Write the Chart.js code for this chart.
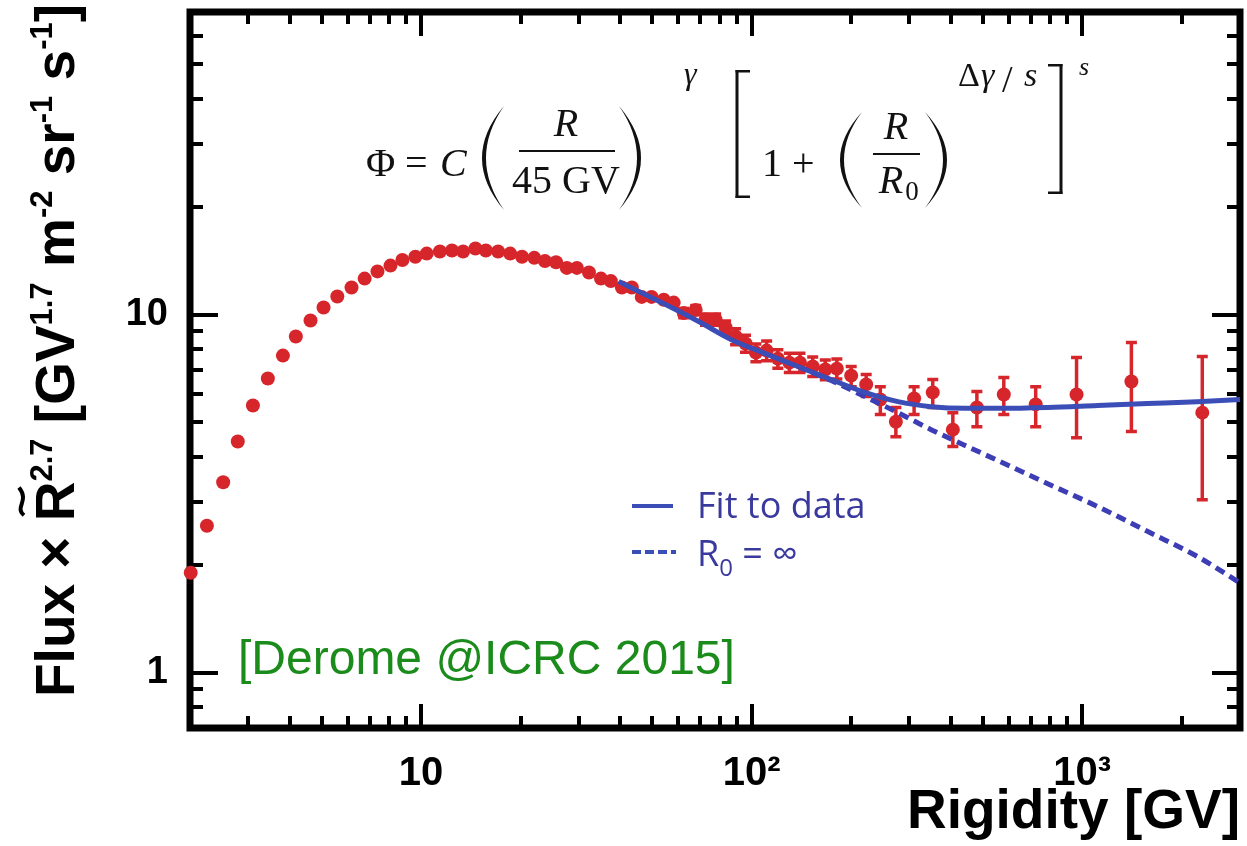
<!DOCTYPE html>
<html>
<head>
<meta charset="utf-8">
<title>Flux x R^2.7 vs rigidity</title>
<script src="https://cdn.jsdelivr.net/npm/chart.js@4.4.1/dist/chart.umd.min.js"></script>
<style>
  html, body { margin: 0; padding: 0; background: #fff; }
  #chart { display: block; }
</style>
</head>
<body>
<canvas id="chart" width="1247" height="846"></canvas>
<script>
// measured points (rigidity in GV, flux x R^2.7)
const rigidity = [
  2.01, 2.25, 2.52, 2.79, 3.10, 3.44, 3.82, 4.18, 4.63, 5.07,
  5.58, 6.16, 6.75, 7.38, 8.08, 8.78, 9.61, 10.4, 11.4, 12.4,
  13.4, 14.6, 15.7, 17.1, 18.6, 20.2, 22.0, 23.7, 25.6, 27.6,
  29.6, 32.2, 35.0, 37.5, 40.5, 43.4, 46.5, 49.8, 54.2, 58.1,
  62.3, 67.7, 72.5, 77.8, 83.4, 89.4, 95.8, 103, 111, 120,
  130, 140, 153, 167, 181, 200, 222, 245, 273, 310,
  353, 406, 480, 579, 723, 961, 1408, 2307
];
const flux = [
  1.90, 2.57, 3.40, 4.42, 5.57, 6.63, 7.68, 8.68, 9.62, 10.46,
  11.23, 11.9, 12.6, 13.2, 13.7, 14.2, 14.5, 14.8, 15.0, 15.1,
  15.0, 15.3, 15.1, 15.0, 14.8, 14.5, 14.4, 14.1, 14.0, 13.5,
  13.5, 13.1, 12.6, 12.4, 11.9, 11.9, 11.2, 11.2, 11.0, 10.8,
  10.1, 10.3, 9.68, 9.68, 9.20, 8.68, 8.30, 7.83, 7.93, 7.53,
  7.34, 7.34, 7.16, 7.02, 7.06, 6.75, 6.38, 5.79, 5.02, 5.83,
  6.06, 4.77, 5.50, 5.98, 5.61, 5.98, 6.50, 5.32
];
const errUp = [
  0, 0, 0, 0, 0, 0, 0, 0, 0, 0,
  0, 0, 0, 0, 0, 0, 0, 0, 0, 0,
  0, 0, 0, 0, 0, 0, 0, 0, 0, 0,
  0, 0, 0, 0, 0, 0, 0, 0, 0, 0,
  0.3, 0.3, 0.35, 0.35, 0.4, 0.45, 0.45, 0.45, 0.5, 0.45,
  0.45, 0.45, 0.45, 0.45, 0.45, 0.41, 0.42, 0.50, 0.48, 0.46,
  0.52, 0.55, 0.60, 0.69, 0.68, 1.61, 1.85, 2.31
];
const errDown = [
  0, 0, 0, 0, 0, 0, 0, 0, 0, 0,
  0, 0, 0, 0, 0, 0, 0, 0, 0, 0,
  0, 0, 0, 0, 0, 0, 0, 0, 0, 0,
  0, 0, 0, 0, 0, 0, 0, 0, 0, 0,
  0.3, 0.3, 0.35, 0.35, 0.4, 0.45, 0.45, 0.45, 0.5, 0.45,
  0.45, 0.45, 0.45, 0.45, 0.45, 0.46, 0.48, 0.53, 0.46, 0.57,
  0.56, 0.49, 0.64, 0.72, 0.75, 1.45, 1.79, 2.28
];

// fit curve and the R0 = infinity curve
const fitRigidity = [39.6, 54.9, 69.1, 86.9, 110, 138, 174, 220, 277, 349, 442, 555, 786, 1112, 1574, 2228, 3000];
const fitFlux = [12.37, 10.66, 9.56, 8.51, 7.78, 7.16, 6.58, 6.06, 5.71, 5.53, 5.47, 5.47, 5.50, 5.57, 5.64, 5.71, 5.79];
const noBreakRigidity = [138, 174, 220, 277, 349, 442, 555, 786, 1112, 1574, 2228, 3000];
const noBreakFlux = [7.16, 6.54, 5.90, 5.32, 4.77, 4.31, 3.91, 3.37, 2.91, 2.48, 2.11, 1.78];

// axes
const xTickValues = [10, 100, 1000];
const xTickLabels = ['10', '10²', '10³'];
const xMinorTicks = [3, 4, 5, 6, 7, 8, 9, 20, 30, 40, 50, 60, 70, 80, 90, 200, 300, 400, 500, 600, 700, 800, 900, 2000];
const yTickValues = [1, 10];
const yTickLabels = ['1', '10'];
const yMinorTicks = [0.8, 0.9, 2, 3, 4, 5, 6, 7, 8, 9, 20, 30, 40, 50, 60];

const SANS = '"Liberation Sans", Arial, Helvetica, sans-serif';
const SERIF = '"Liberation Serif", "DejaVu Serif", serif';
const RED = '#d7262b';
const BLUE = '#3b4db6';

const toPoints = (xs, ys) => xs.map((x, i) => ({ x: x, y: ys[i] }));

// frame, inward ticks and error bars, drawn under the markers
const frameAndBars = {
  id: 'frameAndBars',
  beforeDatasetsDraw(chart) {
    const { ctx, chartArea: a, scales: { x, y } } = chart;
    ctx.save();
    ctx.strokeStyle = '#000';
    ctx.lineWidth = 4;
    ctx.beginPath();
    for (const v of xTickValues.concat(xMinorTicks)) {
      const px = Math.round(x.getPixelForValue(v));
      const len = xTickValues.includes(v) ? 24 : 12;
      ctx.moveTo(px, a.bottom); ctx.lineTo(px, a.bottom - len);
      ctx.moveTo(px, a.top); ctx.lineTo(px, a.top + len);
    }
    for (const v of yTickValues.concat(yMinorTicks)) {
      const py = Math.round(y.getPixelForValue(v));
      const len = yTickValues.includes(v) ? 28 : 13;
      ctx.moveTo(a.left, py); ctx.lineTo(a.left + len, py);
      ctx.moveTo(a.right, py); ctx.lineTo(a.right - len, py);
    }
    ctx.stroke();
    ctx.lineWidth = 7;
    ctx.strokeRect(a.left, a.top, a.right - a.left, a.bottom - a.top);

    // error bars
    ctx.strokeStyle = RED;
    ctx.lineWidth = 3.5;
    ctx.beginPath();
    rigidity.forEach((r, i) => {
      if (!errUp[i] && !errDown[i]) return;
      const px = x.getPixelForValue(r);
      const top = y.getPixelForValue(flux[i] + errUp[i]);
      const bot = y.getPixelForValue(flux[i] - errDown[i]);
      ctx.moveTo(px, top); ctx.lineTo(px, bot);
      ctx.moveTo(px - 5.5, top); ctx.lineTo(px + 5.5, top);
      ctx.moveTo(px - 5.5, bot); ctx.lineTo(px + 5.5, bot);
    });
    ctx.stroke();
    ctx.restore();
  }
};

function paren(ctx, x, top, bottom, dir) {
  const mid = (top + bottom) / 2;
  ctx.beginPath();
  ctx.moveTo(x, top);
  ctx.quadraticCurveTo(x + dir * 44, mid, x, bottom);
  ctx.quadraticCurveTo(x + dir * 36, mid, x, top);
  ctx.fill();
}

function bracket(ctx, x, top, bottom, dir) {
  ctx.fillRect(x - 1.5, top, 3, bottom - top);
  ctx.fillRect(dir > 0 ? x - 1.5 : x - 13, top, 14.5, 2.5);
  ctx.fillRect(dir > 0 ? x - 1.5 : x - 13, bottom - 2.5, 14.5, 2.5);
}

function drawFormula(ctx) {
  ctx.save();
  ctx.fillStyle = '#111';
  ctx.textBaseline = 'alphabetic';
  ctx.textAlign = 'left';
  ctx.font = `40px ${SERIF}`;
  ctx.fillText('Φ', 366, 176);
  ctx.fillText('=', 405, 176);
  ctx.font = `italic 40px ${SERIF}`;
  ctx.fillText('C', 440, 176);
  paren(ctx, 504, 106, 210, -1);
  ctx.textAlign = 'center';
  ctx.fillText('R', 566, 136);
  ctx.fillRect(519, 150, 96, 2);
  ctx.font = `40px ${SERIF}`;
  ctx.fillText('45 GV', 566, 193);
  paren(ctx, 619, 106, 210, 1);
  ctx.textAlign = 'left';
  ctx.font = `italic 32px ${SERIF}`;
  ctx.fillText('γ', 684, 84);
  bracket(ctx, 737, 70, 198, 1);
  ctx.font = `40px ${SERIF}`;
  ctx.fillText('1', 762, 176);
  ctx.fillText('+', 792, 176);
  paren(ctx, 862, 112, 208, -1);
  ctx.textAlign = 'center';
  ctx.font = `italic 40px ${SERIF}`;
  ctx.fillText('R', 896, 139);
  ctx.fillRect(873, 153, 47, 2);
  ctx.fillText('R', 891, 193);
  ctx.font = `27px ${SERIF}`;
  ctx.fillText('0', 912, 200);
  paren(ctx, 925, 112, 208, 1);
  ctx.textAlign = 'left';
  ctx.font = `34px ${SERIF}`;
  ctx.fillText('Δ', 958, 86);
  ctx.font = `italic 34px ${SERIF}`;
  ctx.fillText('γ', 981, 86);
  ctx.font = `38px ${SERIF}`;
  ctx.fillText('/', 1002, 92);
  ctx.font = `italic 34px ${SERIF}`;
  ctx.fillText('s', 1024, 86);
  bracket(ctx, 1061, 64, 194, -1);
  ctx.font = `italic 26px ${SERIF}`;
  ctx.fillText('s', 1079, 75);
  ctx.restore();
}

function drawYTitle(ctx) {
  const parts = [
    ['Flux × R', false], ['2.7', true], [' [GV', false], ['1.7', true],
    [' m', false], ['-2', true], [' sr', false], ['-1', true],
    [' s', false], ['-1', true], [']', false]
  ];
  ctx.save();
  ctx.translate(74, 697);
  ctx.rotate(-Math.PI / 2);
  ctx.fillStyle = '#000';
  ctx.textBaseline = 'alphabetic';
  ctx.textAlign = 'left';
  let pos = 0;
  for (const [t, sup] of parts) {
    ctx.font = sup ? `bold 31px ${SANS}` : `bold 55px ${SANS}`;
    ctx.fillText(t, pos, sup ? -22 : 0);
    if (t === 'Flux × R') {
      // tilde above the R
      const r0 = pos + ctx.measureText('Flux × ').width;
      const rw = ctx.measureText('R').width;
      ctx.beginPath();
      ctx.lineWidth = 4;
      ctx.strokeStyle = '#000';
      const tx = r0 + 6, tw = rw - 12, ty = -52;
      ctx.moveTo(tx, ty + 2);
      ctx.bezierCurveTo(tx + tw * 0.3, ty - 8, tx + tw * 0.5, ty + 8, tx + tw, ty - 3);
      ctx.stroke();
    }
    pos += ctx.measureText(t).width;
  }
  ctx.restore();
}

function drawNotes(ctx) {
  ctx.save();
  // legend
  ctx.lineWidth = 4;
  ctx.strokeStyle = BLUE;
  ctx.beginPath();
  ctx.moveTo(632, 506); ctx.lineTo(673, 506);
  ctx.stroke();
  ctx.setLineDash([9, 4]);
  ctx.beginPath();
  ctx.moveTo(632, 552); ctx.lineTo(676, 552);
  ctx.stroke();
  ctx.setLineDash([]);
  ctx.fillStyle = '#3a3a9e';
  ctx.textBaseline = 'alphabetic';
  ctx.textAlign = 'left';
  ctx.font = `36px "Open Sans", ${SANS}`;
  ctx.fillText('Fit to data', 697, 518);
  ctx.fillText('R', 697, 566);
  let px = 697 + ctx.measureText('R').width;
  ctx.font = `24px "Open Sans", ${SANS}`;
  ctx.fillText('0', px, 576);
  px += ctx.measureText('0').width;
  ctx.font = `36px "Open Sans", ${SANS}`;
  ctx.fillText(' = ∞', px, 566);

  // citation
  ctx.fillStyle = '#1b8c1b';
  ctx.font = `48px ${SANS}`;
  ctx.fillText('[Derome @ICRC 2015]', 238, 674);
  ctx.restore();
}

const annotations = {
  id: 'annotations',
  afterDraw(chart) {
    const ctx = chart.ctx;
    drawFormula(ctx);
    drawYTitle(ctx);
    drawNotes(ctx);
  }
};

const ctx = document.getElementById('chart');
const chart = new Chart(ctx, {
  type: 'scatter',
  data: {
    datasets: [
      {
        label: 'Fit to data',
        data: toPoints(fitRigidity, fitFlux),
        showLine: true,
        borderColor: BLUE,
        borderWidth: 5,
        pointRadius: 0,
        cubicInterpolationMode: 'monotone'
      },
      {
        label: 'R0 = inf',
        data: toPoints(noBreakRigidity, noBreakFlux),
        showLine: true,
        borderColor: '#3d3db5',
        borderWidth: 5,
        borderDash: [10, 6],
        pointRadius: 0,
        cubicInterpolationMode: 'monotone'
      },
      {
        label: 'Data',
        data: toPoints(rigidity, flux),
        backgroundColor: RED,
        borderWidth: 0,
        pointRadius: 7,
        clip: false
      }
    ]
  },
  options: {
    responsive: false,
    devicePixelRatio: 1,
    animation: false,
    layout: { padding: { top: 12, right: 4, left: 0, bottom: 0 } },
    plugins: {
      legend: { display: false },
      tooltip: { enabled: false }
    },
    scales: {
      x: {
        type: 'logarithmic',
        min: 2,
        max: 3000,
        grid: { display: false, drawTicks: false },
        border: { display: false },
        afterBuildTicks: (s) => { s.ticks = xTickValues.map((v) => ({ value: v })); },
        afterFit: (s) => { s.height = 118; s.paddingLeft = 0; s.paddingRight = 0; },
        ticks: {
          autoSkip: false,
          maxRotation: 0,
          padding: 22,
          color: '#000',
          font: { family: SANS, size: 40, weight: 'bold' },
          callback: (v) => xTickLabels[xTickValues.indexOf(v)]
        },
        title: {
          display: true,
          text: 'Rigidity [GV]',
          align: 'end',
          color: '#000',
          padding: { top: 0, bottom: 0 },
          font: { family: SANS, size: 55, weight: 'bold', lineHeight: 1.2 }
        }
      },
      y: {
        type: 'logarithmic',
        min: 0.7,
        max: 70,
        grid: { display: false, drawTicks: false },
        border: { display: false },
        afterBuildTicks: (s) => { s.ticks = yTickValues.map((v) => ({ value: v })); },
        afterFit: (s) => { s.width = 190; s.paddingTop = 0; s.paddingBottom = 0; },
        ticks: {
          autoSkip: false,
          padding: 22,
          color: '#000',
          font: { family: SANS, size: 38, weight: 'bold' },
          callback: (v) => yTickLabels[yTickValues.indexOf(v)]
        }
      }
    }
  },
  plugins: [frameAndBars, annotations]
});
</script>
</body>
</html>
